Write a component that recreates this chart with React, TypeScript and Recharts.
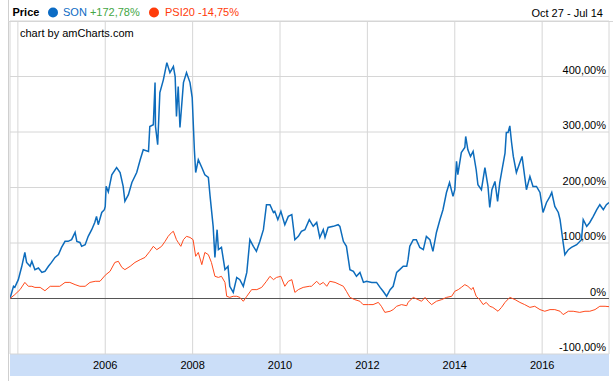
import { LineChart, Line, XAxis, YAxis, CartesianGrid, ReferenceLine } from 'recharts';

// comparison series, % change since Oct 27 2003 (x = decimal year)
const sonYears = [
  2003.82, 2003.9, 2003.93, 2004.01, 2004.09, 2004.16, 2004.2, 2004.28, 2004.32, 2004.39,
  2004.47, 2004.55, 2004.62, 2004.7, 2004.77, 2004.85, 2004.93, 2005.0, 2005.08, 2005.15,
  2005.23, 2005.31, 2005.35, 2005.42, 2005.46, 2005.54, 2005.61, 2005.69, 2005.76, 2005.8,
  2005.84, 2005.92, 2005.98, 2006.0, 2006.02, 2006.07, 2006.15, 2006.26, 2006.34, 2006.41,
  2006.45, 2006.53, 2006.61, 2006.72, 2006.8, 2006.87, 2006.99, 2007.02, 2007.1, 2007.14,
  2007.15, 2007.2, 2007.25, 2007.33, 2007.41, 2007.48, 2007.56, 2007.6, 2007.63, 2007.67,
  2007.71, 2007.79, 2007.86, 2007.94, 2007.99, 2008.04, 2008.07, 2008.13, 2008.21, 2008.28,
  2008.36, 2008.4, 2008.47, 2008.51, 2008.56, 2008.59, 2008.66, 2008.74, 2008.81, 2008.85,
  2008.93, 2009.01, 2009.08, 2009.16, 2009.24, 2009.31, 2009.39, 2009.46, 2009.54, 2009.62,
  2009.69, 2009.77, 2009.85, 2009.88, 2009.95, 2010.02, 2010.11, 2010.19, 2010.27, 2010.34,
  2010.42, 2010.49, 2010.57, 2010.67, 2010.76, 2010.84, 2010.91, 2010.99, 2011.03, 2011.1,
  2011.22, 2011.33, 2011.37, 2011.45, 2011.52, 2011.6, 2011.68, 2011.75, 2011.83, 2011.91,
  2011.98, 2012.1, 2012.21, 2012.29, 2012.36, 2012.44, 2012.52, 2012.59, 2012.67, 2012.74,
  2012.82, 2012.9, 2012.93, 2012.97, 2013.05, 2013.12, 2013.2, 2013.28, 2013.35, 2013.43,
  2013.5, 2013.58, 2013.66, 2013.73, 2013.81, 2013.88, 2013.96, 2014.0, 2014.04, 2014.07,
  2014.15, 2014.23, 2014.25, 2014.3, 2014.36, 2014.42, 2014.49, 2014.53, 2014.61, 2014.69,
  2014.76, 2014.8, 2014.85, 2014.92, 2014.98, 2015.03, 2015.07, 2015.15, 2015.18, 2015.22,
  2015.26, 2015.3, 2015.34, 2015.41, 2015.49, 2015.54, 2015.6, 2015.64, 2015.72, 2015.79,
  2015.87, 2015.95, 2016.02, 2016.1, 2016.18, 2016.22, 2016.29, 2016.37, 2016.41, 2016.48,
  2016.52, 2016.6, 2016.67, 2016.79, 2016.9, 2016.94, 2017.02, 2017.09, 2017.17, 2017.25,
  2017.32, 2017.4, 2017.47, 2017.53,
];
const sonValues = [
  0, 22, 20, 34, 58, 83, 65, 58, 67, 52,
  55, 47, 49, 58, 65, 74, 79, 92, 103, 103,
  106, 119, 103, 101, 94, 97, 112, 124, 137, 148,
  133, 155, 160, 166, 202, 192, 223, 236, 227, 202,
  175, 187, 209, 227, 250, 268, 265, 310, 313, 389,
  310, 277, 371, 394, 425, 407, 418, 400, 328, 382,
  308, 389, 407, 389, 362, 268, 227, 250, 236, 223,
  218, 184, 130, 74, 124, 88, 92, 52, 58, 22,
  11, 38, 34, 22, 47, 106, 94, 85, 103, 124,
  169, 169, 155, 157, 142, 157, 133, 148, 151, 106,
  112, 121, 124, 142, 130, 137, 110, 124, 110, 128,
  130, 133, 130, 103, 94, 52, 49, 40, 47, 29,
  31, 29, 29, 20, 13, 4, 16, 22, 47, 52,
  58, 58, 70, 94, 106, 106, 92, 88, 112, 106,
  85, 119, 142, 160, 191, 209, 184, 196, 247, 223,
  263, 272, 292, 268, 256, 265, 232, 205, 196, 236,
  202, 164, 196, 211, 175, 209, 227, 262, 299, 299,
  311, 281, 256, 227, 245, 256, 220, 196, 220, 202,
  202, 191, 155, 173, 184, 191, 166, 155, 142, 101,
  79, 88, 92, 97, 106, 142, 130, 137, 148, 160,
  169, 160, 169, 172.78,
];

const psiYears = [
  2003.82, 2003.93, 2004.05, 2004.16, 2004.24, 2004.32, 2004.39, 2004.51, 2004.62, 2004.74,
  2004.85, 2004.96, 2005.08, 2005.19, 2005.31, 2005.42, 2005.54, 2005.65, 2005.77, 2005.88,
  2006.0, 2006.11, 2006.22, 2006.3, 2006.38, 2006.45, 2006.57, 2006.68, 2006.8, 2006.91,
  2007.02, 2007.1, 2007.18, 2007.29, 2007.37, 2007.44, 2007.52, 2007.56, 2007.63, 2007.67,
  2007.73, 2007.79, 2007.86, 2007.94, 2008.01, 2008.07, 2008.13, 2008.21, 2008.28, 2008.36,
  2008.43, 2008.51, 2008.59, 2008.66, 2008.74, 2008.78, 2008.85, 2008.93, 2009.01, 2009.08,
  2009.16, 2009.24, 2009.35, 2009.47, 2009.58, 2009.69, 2009.77, 2009.85, 2009.92, 2010.02,
  2010.11, 2010.19, 2010.27, 2010.34, 2010.42, 2010.53, 2010.67, 2010.72, 2010.84, 2010.91,
  2010.99, 2011.07, 2011.14, 2011.26, 2011.37, 2011.45, 2011.52, 2011.6, 2011.71, 2011.83,
  2011.9, 2012.02, 2012.13, 2012.25, 2012.32, 2012.4, 2012.52, 2012.59, 2012.67, 2012.78,
  2012.9, 2012.93, 2013.05, 2013.16, 2013.24, 2013.32, 2013.39, 2013.47, 2013.58, 2013.7,
  2013.81, 2013.93, 2014.0, 2014.08, 2014.15, 2014.23, 2014.3, 2014.38, 2014.42, 2014.49,
  2014.57, 2014.65, 2014.72, 2014.8, 2014.87, 2014.99, 2015.07, 2015.15, 2015.26, 2015.38,
  2015.49, 2015.6, 2015.72, 2015.83, 2015.95, 2016.06, 2016.18, 2016.29, 2016.41, 2016.48,
  2016.6, 2016.71, 2016.86, 2016.98, 2017.09, 2017.21, 2017.32, 2017.44, 2017.53,
];
const psiValues = [
  0, 7, 16, 29, 22, 22, 20, 20, 14, 22,
  22, 22, 29, 29, 25, 22, 22, 29, 31, 31,
  42, 49, 65, 67, 56, 52, 58, 65, 70, 74,
  85, 94, 88, 94, 103, 112, 119, 121, 106, 101,
  94, 106, 112, 110, 106, 76, 83, 61, 83, 79,
  65, 40, 38, 40, 29, 4, 2, 4, 4, 2,
  -5, 4, 16, 16, 20, 31, 40, 34, 38, 40,
  22, 31, 34, 11, 16, 20, 22, 22, 31, 25,
  29, 22, 31, 29, 25, 22, 13, 2, -2, -5,
  -11, -11, -11, -7, -14, -25, -23, -20, -14, -11,
  -13, -7, 2, -2, -5, 2, -5, -11, -5, -2,
  2, 4, 13, 16, 20, 25, 22, 16, 20, 4,
  -2, -11, -7, -14, -16, -23, -16, -7, 2, -2,
  -7, -11, -16, -14, -20, -23, -20, -20, -23, -29,
  -23, -23, -25, -23, -23, -20, -14, -14, -14.75,
];

const xTicks = [2004, 2006, 2008, 2010, 2012, 2014, 2016];
const xTickLabels = ['', '2006', '2008', '2010', '2012', '2014', '2016'];
const yTicks = [-100, 0, 100, 200, 300, 400, 500];
const yTickLabels = ['-100,00%', '0%', '100,00%', '200,00%', '300,00%', '400,00%', ''];

const sonData = sonYears.map((t, i) => ({ t, v: sonValues[i] }));
const psiData = psiYears.map((t, i) => ({ t, v: psiValues[i] }));

const FONT = '"Liberation Sans", Arial, sans-serif';

const XTick = ({ x, y, payload }: any) => {
  const label = xTickLabels[xTicks.indexOf(payload.value)];
  return (
    <text x={x} y={y + 15} textAnchor="middle" fontSize={11} fontFamily={FONT} fill="#000">
      {label}
    </text>
  );
};

// labels sit inside the plot, right aligned, just above their grid line
const YTick = ({ y, payload }: any) => {
  const label = yTickLabels[yTicks.indexOf(payload.value)];
  return (
    <text x={606} y={y - 3} textAnchor="end" fontSize={11} fontFamily={FONT} fill="#000">
      {label}
    </text>
  );
};

export default function App() {
  return (
    <div style={{ position: 'fixed', left: 0, top: 0, width: 613, height: 381, background: '#fff', overflow: 'hidden' }}>
      {/* category axis band + frame lines */}
      <div style={{ position: 'absolute', left: 10, top: 354, width: 599, height: 22, background: '#cbdef8' }} />
      <div style={{ position: 'absolute', left: 8, top: 0, width: 1, height: 381, background: '#cfcfcf' }} />
      <div style={{ position: 'absolute', left: 8, top: 21, width: 605, height: 1, background: '#d6d6d6' }} />
      <div style={{ position: 'absolute', left: 0, top: 0 }}>
        <LineChart width={613} height={381} margin={{ top: 21, right: 3, bottom: 0, left: 10 }}>
          <CartesianGrid stroke="#d6d6d6" />
          <XAxis
            dataKey="t"
            type="number"
            domain={[2003.82, 2017.53]}
            ticks={xTicks}
            allowDataOverflow
            height={27}
            axisLine={false}
            tickLine={false}
            tickSize={0}
            tickMargin={0}
            interval={0}
            tick={<XTick />}
          />
          <YAxis
            type="number"
            domain={[-100, 500]}
            ticks={yTicks}
            orientation="right"
            width={1}
            axisLine={false}
            tickLine={false}
            tickSize={0}
            tickMargin={0}
            interval={0}
            tick={<YTick />}
          />
          <ReferenceLine y={0} stroke="#555" strokeWidth={1} />
          <Line
            data={sonData}
            dataKey="v"
            type="linear"
            stroke="#0d6cbc"
            strokeWidth={1.5}
            dot={false}
            isAnimationActive={false}
          />
          <Line
            data={psiData}
            dataKey="v"
            type="linear"
            stroke="#ff4a1c"
            strokeWidth={1}
            dot={false}
            isAnimationActive={false}
          />
        </LineChart>
      </div>
      {/* header / legend */}
      <svg width={613} height={40} style={{ position: 'absolute', left: 0, top: 0 }}>
        <text x={12.5} y={16} fontSize={11} fontWeight="bold" fontFamily={FONT} fill="#000">Price</text>
        <circle cx={53} cy={12.5} r={5} fill="#0b6bc4" />
        <text x={63} y={16} fontSize={11} fontFamily={FONT}>
          <tspan fill="#0b6bc4">SON </tspan>
          <tspan fill="#44a644">+172,78%</tspan>
        </text>
        <circle cx={154} cy={12.5} r={5} fill="#ff3b0a" />
        <text x={165} y={16} fontSize={11} fontFamily={FONT}>
          <tspan fill="#ff3b0a">PSI20 -14,75%</tspan>
        </text>
        <text x={603} y={17} textAnchor="end" fontSize={11} fontFamily={FONT} fill="#000">Oct 27 - Jul 14</text>
        <text x={20} y={37} fontSize={11} fontFamily={FONT} fill="#000">chart by amCharts.com</text>
      </svg>
    </div>
  );
}
